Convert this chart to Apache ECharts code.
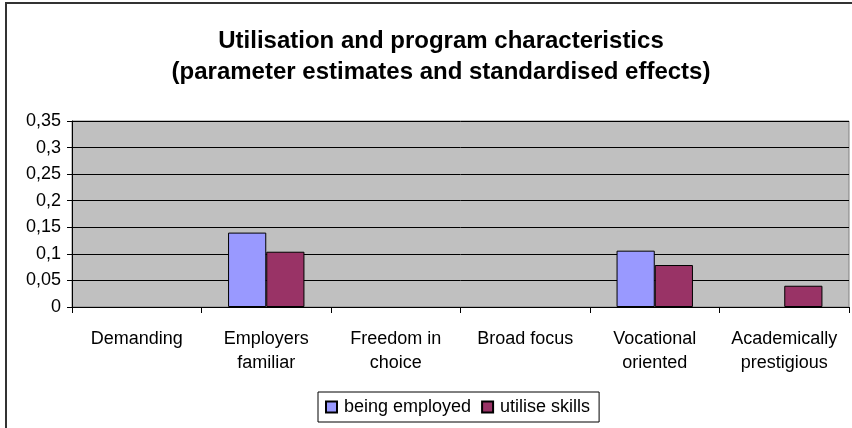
<!DOCTYPE html>
<html>
<head>
<meta charset="utf-8">
<script src="https://cdn.jsdelivr.net/npm/echarts@6/dist/echarts.min.js"></script>
<style>
  html, body { margin: 0; padding: 0; background: #fff; }
  #chart { width: 852px; height: 428px; }
</style>
</head>
<body>
<div id="chart"></div>
<script>
  // data (null = no bar drawn)
  var categories = ['Demanding', 'Employers\nfamiliar', 'Freedom in\nchoice', 'Broad focus', 'Vocational\noriented', 'Academically\nprestigious'];
  var beingEmployed = [null, 0.14, null, null, 0.106, null];
  var utiliseSkills = [null, 0.104, null, null, 0.079, 0.04];
  var yTicks = [0, 0.05, 0.1, 0.15, 0.2, 0.25, 0.3, 0.35];

  var font = 'Liberation Sans, Arial, sans-serif';
  var chart = echarts.init(document.getElementById('chart'));

  chart.setOption({
    animation: false,
    textStyle: { fontFamily: font },
    title: {
      text: 'Utilisation and program characteristics\n(parameter estimates and standardised effects)',
      left: 436,
      top: 21,
      textAlign: 'center',
      textStyle: { fontFamily: font, fontSize: 24, fontWeight: 'bold', color: '#000', lineHeight: 31 }
    },
    graphic: [{
      type: 'rect',
      silent: true,
      shape: { x: 6, y: 3, width: 900, height: 500 },
      style: { fill: 'none', stroke: '#333', lineWidth: 2 }
    }],
    grid: {
      left: 72, right: 3, top: 121, bottom: 121,
      show: true,
      backgroundColor: '#C0C0C0',
      borderColor: '#808080',
      borderWidth: 1
    },
    legend: {
      top: 392,
      left: 318,
      icon: 'rect',
      itemWidth: 11,
      itemHeight: 11,
      itemGap: 10,
      padding: [6, 9, 6, 7],
      borderColor: '#000',
      borderWidth: 1,
      textStyle: { fontFamily: font, fontSize: 18, color: '#000', padding: [0, 0, 0, 2] },
      data: ['being employed', 'utilise skills']
    },
    xAxis: {
      type: 'category',
      data: categories,
      axisLine: { lineStyle: { color: '#000', width: 1 } },
      axisTick: { show: true, length: 6, lineStyle: { color: '#000' } },
      axisLabel: { fontFamily: font, fontSize: 18, color: '#000', lineHeight: 24, margin: 20, interval: 0 }
    },
    yAxis: {
      type: 'value',
      min: 0,
      max: 0.35,
      interval: 0.05,
      axisLine: { show: true, lineStyle: { color: '#000' } },
      axisTick: { show: true, length: 5, lineStyle: { color: '#000' } },
      splitLine: { show: true, lineStyle: { color: '#000', width: 1 } },
      axisLabel: {
        fontFamily: font, fontSize: 18, color: '#000', margin: 11,
        formatter: function (v) {
          var t = yTicks.find(function (x) { return Math.abs(x - v) < 1e-9; });
          return String(t !== undefined ? t : v).replace('.', ',');
        }
      }
    },
    series: [
      {
        name: 'being employed',
        type: 'bar',
        data: beingEmployed,
        barGap: '0%',
        barCategoryGap: '41%',
        itemStyle: { color: '#9999FF', borderColor: '#000', borderWidth: 1 }
      },
      {
        name: 'utilise skills',
        type: 'bar',
        data: utiliseSkills,
        barGap: '0%',
        barCategoryGap: '41%',
        itemStyle: { color: '#993366', borderColor: '#000', borderWidth: 1 }
      }
    ]
  });
</script>
</body>
</html>
